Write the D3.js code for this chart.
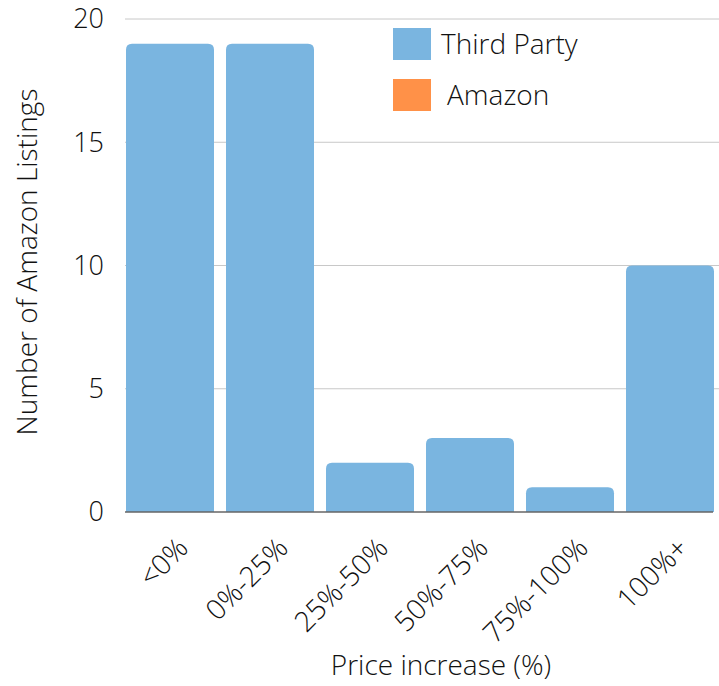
<!DOCTYPE html>
<html>
<head>
<meta charset="utf-8">
<script src="https://cdn.jsdelivr.net/npm/d3@7"></script>
<style>
  body { margin: 0; background: #fff; }
  text { font-family: "Open Sans", sans-serif; font-weight: 300; fill: #111; }
</style>
</head>
<body>
<script>
const categories = ['<0%', '0%-25%', '25%-50%', '50%-75%', '75%-100%', '100%+'];
const thirdParty = [19, 19, 2, 3, 1, 10];
const amazon = [0, 0, 0, 0, 0, 0];
const yTicks = [0, 5, 10, 15, 20];
const seriesNames = ['Third Party', 'Amazon'];
const colors = ['#7ab5e0', '#ff9148'];

const width = 719, height = 686;

const svg = d3.select('body').append('svg')
    .attr('width', width)
    .attr('height', height);

const x = d3.scaleBand()
    .domain(categories)
    .range([120, 720])
    .paddingInner(0.12)
    .paddingOuter(0.06);

const y = d3.scaleLinear()
    .domain([0, 20])
    .range([512, 19]);

// gridlines
svg.append('g')
    .selectAll('line')
    .data(yTicks.filter(d => d > 0))
    .enter().append('line')
    .attr('x1', 125).attr('x2', 719)
    .attr('y1', d => y(d)).attr('y2', d => y(d))
    .attr('stroke', '#c8c8c8')
    .attr('stroke-width', 1);

// y tick labels
svg.append('g')
    .selectAll('text')
    .data(yTicks)
    .enter().append('text')
    .attr('x', 104)
    .attr('y', d => y(d))
    .attr('dy', '0.35em')
    .attr('text-anchor', 'end')
    .style('font-size', '27px')
    .text(d => d);

// stacked bars with rounded tops
const rows = categories.map((c, i) => ({ cat: c, tp: thirdParty[i], am: amazon[i] }));
const stack = d3.stack().keys(['tp', 'am'])(rows);

function topRounded(x0, y0, w, h, r) {
    r = Math.min(r, h, w / 2);
    return `M${x0},${y0 + h}V${y0 + r}Q${x0},${y0} ${x0 + r},${y0}H${x0 + w - r}Q${x0 + w},${y0} ${x0 + w},${y0 + r}V${y0 + h}Z`;
}

svg.append('g')
    .selectAll('g')
    .data(stack)
    .enter().append('g')
    .attr('fill', (d, i) => colors[i])
    .selectAll('path')
    .data(d => d.filter(p => p[1] - p[0] > 0))
    .enter().append('path')
    .attr('d', d => topRounded(x(d.data.cat), y(d[1]), x.bandwidth(), y(d[0]) - y(d[1]), 6));

// x axis line
svg.append('line')
    .attr('x1', 125).attr('x2', 713)
    .attr('y1', y(0)).attr('y2', y(0))
    .attr('stroke', '#666')
    .attr('stroke-width', 1.5);

// x tick labels
svg.append('g')
    .selectAll('text')
    .data(categories)
    .enter().append('text')
    .attr('transform', d => `translate(${x(d) + x.bandwidth() / 2 + 5},${535}) rotate(-45)`)
    .attr('text-anchor', 'end')
    .attr('dy', '0.75em')
    .style('font-size', '28px')
    .text(d => d);

// axis titles
svg.append('text')
    .attr('transform', 'translate(37,262) rotate(-90)')
    .attr('text-anchor', 'middle')
    .style('font-size', '28px')
    .text('Number of Amazon Listings');

svg.append('text')
    .attr('x', 441)
    .attr('y', 675)
    .attr('text-anchor', 'middle')
    .style('font-size', '28px')
    .text('Price increase (%)');

// legend
const legend = svg.append('g')
    .selectAll('g')
    .data(seriesNames)
    .enter().append('g')
    .attr('transform', (d, i) => `translate(393,${28 + i * 51})`);

legend.append('rect')
    .attr('width', 38).attr('height', 32)
    .attr('fill', (d, i) => colors[i]);

legend.append('text')
    .attr('x', (d, i) => i === 0 ? 48 : 54)
    .attr('y', 16)
    .attr('dy', '0.35em')
    .style('font-size', '28px')
    .text(d => d);
</script>
</body>
</html>
